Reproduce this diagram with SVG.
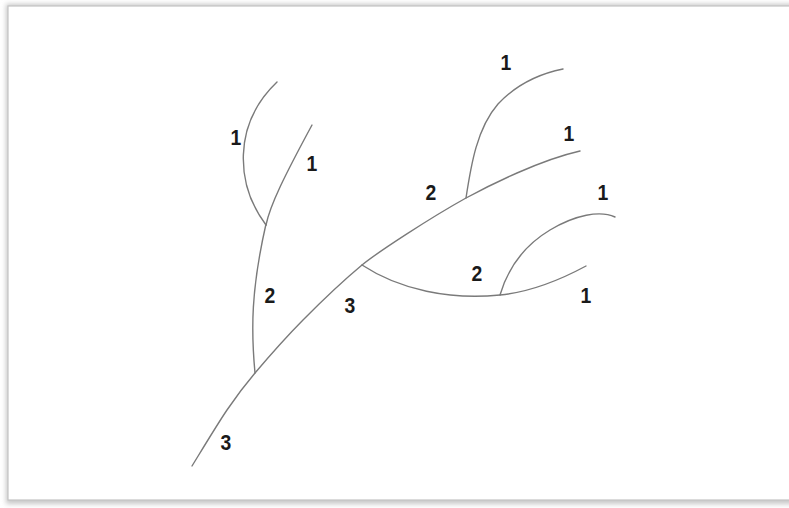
<svg xmlns="http://www.w3.org/2000/svg" width="789" height="508" viewBox="0 0 789 508">
<defs>
<filter id="sh" x="-5%" y="-5%" width="110%" height="110%"><feGaussianBlur stdDeviation="2.5"/></filter>
<style>
.s{fill:none;stroke:#7a7a7a;stroke-width:1.4;stroke-linecap:round;stroke-linejoin:round}
.t{font-family:"Liberation Sans",Arial,sans-serif;font-size:22px;font-weight:bold;fill:#1a1a1a;text-anchor:middle}
</style>
</defs>
<rect x="0" y="0" width="789" height="508" fill="#ffffff"/>
<g id="frame">
<rect x="6" y="4" width="800" height="500" fill="#c8c8c8" filter="url(#sh)"/>
<rect x="8" y="6" width="800" height="494" fill="#ffffff" stroke="#c4c4c4" stroke-width="1.2"/>
</g>
<g id="connectors">
<path id="main" class="s" d="M192,466 C197.8,456.7 216.5,425.5 227,410 C237.5,394.5 242.3,388 255,373 C267.7,358 285.2,338 303,320 C320.8,302 345.8,278.5 362,265 C378,252 430,218 466,198 C490,185 540,160 580,151"/>
<path id="left2" class="s" d="M255,373 C251,330 251,290 266,224"/>
<path id="left1a" class="s" d="M266,225 C236,185 232,125 277,82"/>
<path id="left1b" class="s" d="M266,225 C270,205 285,175 312,125"/>
<path id="up1a" class="s" d="M466,198 C471,165 477,128 498,104 C515,86 538,74 563,69"/>
<path id="low2" class="s" d="M362,265 C400,290 450,300 500,295 C530,292 560,280 586,266"/>
<path id="low1a" class="s" d="M500,295 C508,268 525,245 550,230 C575,215 600,210 615,217"/>
</g>
<g id="labels">
<g id="n1"><text class="t" transform="translate(236,145) scale(0.88,1)">1</text></g>
<g id="n2"><text class="t" transform="translate(312,171) scale(0.88,1)">1</text></g>
<g id="n3"><text class="t" transform="translate(270,303) scale(0.88,1)">2</text></g>
<g id="n4"><text class="t" transform="translate(350,313) scale(0.88,1)">3</text></g>
<g id="n5"><text class="t" transform="translate(226,450) scale(0.88,1)">3</text></g>
<g id="n6"><text class="t" transform="translate(506,70) scale(0.88,1)">1</text></g>
<g id="n7"><text class="t" transform="translate(569,141) scale(0.88,1)">1</text></g>
<g id="n8"><text class="t" transform="translate(431,200) scale(0.88,1)">2</text></g>
<g id="n9"><text class="t" transform="translate(603,200) scale(0.88,1)">1</text></g>
<g id="n10"><text class="t" transform="translate(477,281) scale(0.88,1)">2</text></g>
<g id="n11"><text class="t" transform="translate(586,303) scale(0.88,1)">1</text></g>
</g>
</svg>
